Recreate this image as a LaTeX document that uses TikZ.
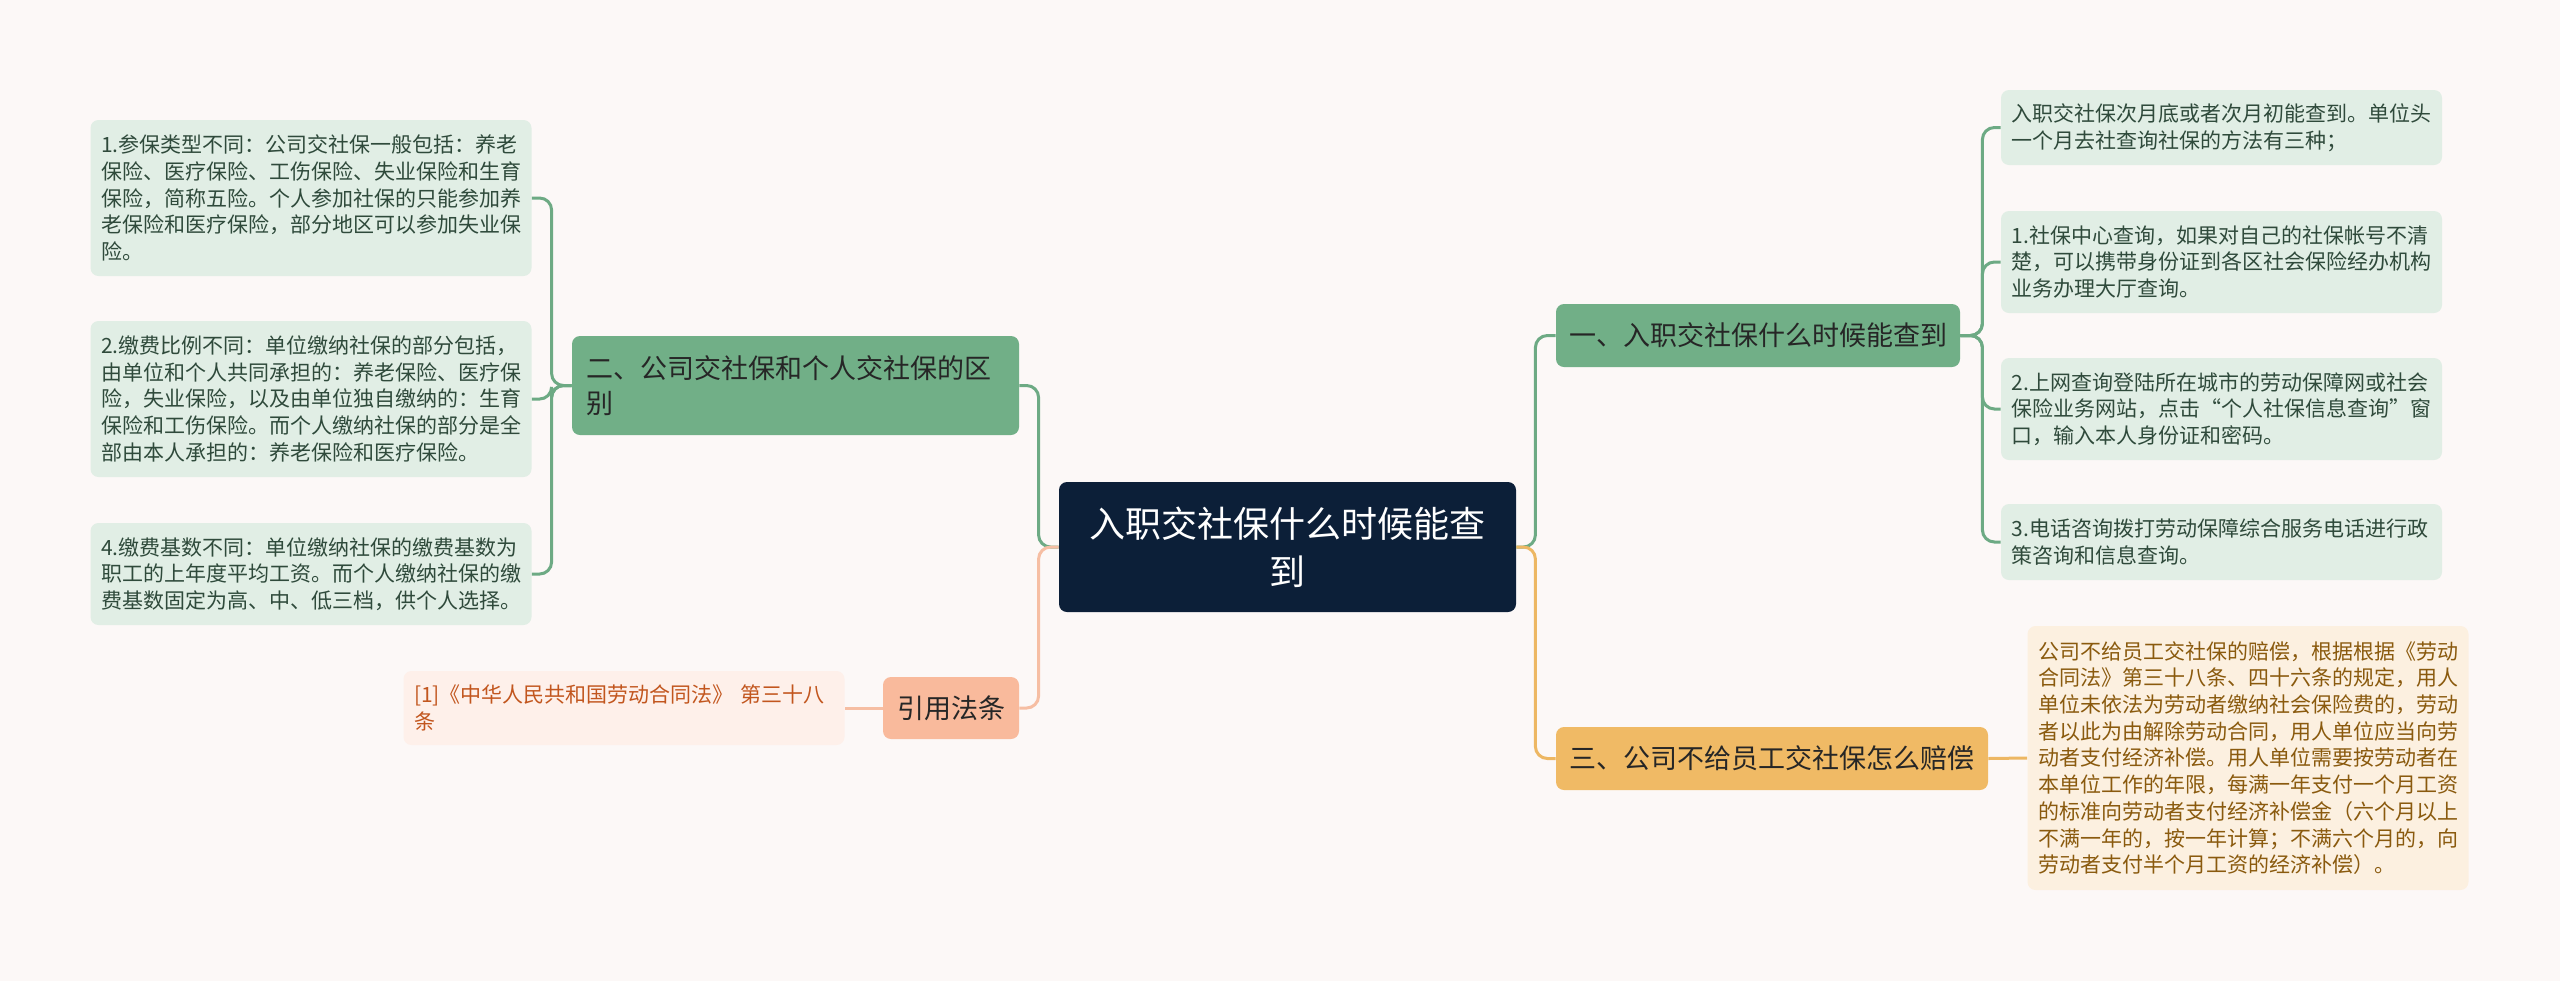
\documentclass[tikz,border=0pt]{standalone}
\usepackage{fontspec}
\setmainfont{Noto Sans CJK SC}
\usetikzlibrary{positioning}
\definecolor{paperbg}{HTML}{FCF8F7}
\definecolor{rootnavy}{HTML}{0C1F38}
\definecolor{sagegreen}{HTML}{71AF87}
\definecolor{sageline}{HTML}{6DAA84}
\definecolor{sageleaf}{HTML}{E1EEE5}
\definecolor{sagetext}{HTML}{2F4A3B}
\definecolor{amberfill}{HTML}{F0BA65}
\definecolor{amberline}{HTML}{EDB763}
\definecolor{amberleaf}{HTML}{FCF0E0}
\definecolor{ambertext}{HTML}{8A5A0E}
\definecolor{salmonfill}{HTML}{F9BA9C}
\definecolor{salmonline}{HTML}{F6BEA3}
\definecolor{salmonleaf}{HTML}{FEF0EA}
\definecolor{salmontext}{HTML}{C2561E}
\tikzset{
  rootbox/.style={fill=rootnavy, text=white, rounded corners=4pt, align=center,
    font=\fontsize{18pt}{24pt}\selectfont, minimum width=228.5pt, minimum height=65pt},
  branchbox/.style={rounded corners=4pt, text=black!85,
    font=\fontsize{13.5pt}{17.5pt}\selectfont, minimum height=31.5pt},
  leafbox/.style={rounded corners=4pt, align=left, text width=210pt, inner xsep=5.25pt,
    font=\fontsize{10.5pt}{13.35pt}\selectfont},
  greenlink/.style={draw=sageline, line width=1.5pt},
  amberlink/.style={draw=amberline, line width=1.5pt},
  salmonlink/.style={draw=salmonline, line width=1.5pt}
}
\begin{document}
\begin{tikzpicture}[x=0.5pt, y=-0.5pt]
    \useasboundingbox[fill=paperbg] (0,0) rectangle (2560,981);

    % root
    \node (main) [rootbox] at (1287.5,547) {入职交社保什么时候能查\\到};

    % branches
    \node (b1) [branchbox, fill=sagegreen, minimum width=202pt] at (1758,335.5) {一、入职交社保什么时候能查到};
    \node (b2) [branchbox, fill=sagegreen, minimum width=223.5pt, minimum height=49.5pt,
      align=left, text width=209.5pt, inner xsep=7pt] at (795.5,385.5) {二、公司交社保和个人交社保的区\\别};
    \node (b3) [branchbox, fill=amberfill, minimum width=216pt] at (1772,758.5) {三、公司不给员工交社保怎么赔偿};
    \node (bref) [branchbox, fill=salmonfill, minimum width=68pt, minimum height=31pt] at (951,708) {引用法条};

    % leaves of b1
    \node (r0) [leafbox, fill=sageleaf, text=sagetext, minimum height=37.5pt] at (2221.5,127.5)
      {入职交社保次月底或者次月初能查到。单位头\\一个月去社查询社保的方法有三种；};
    \node (r1) [leafbox, fill=sageleaf, text=sagetext, minimum height=51pt] at (2221.5,262)
      {1.社保中心查询，如果对自己的社保帐号不清\\楚，可以携带身份证到各区社会保险经办机构\\业务办理大厅查询。};
    \node (r2) [leafbox, fill=sageleaf, text=sagetext, minimum height=51pt] at (2221.5,409)
      {2.上网查询登陆所在城市的劳动保障网或社会\\保险业务网站，点击“个人社保信息查询”窗\\口，输入本人身份证和密码。};
    \node (r3) [leafbox, fill=sageleaf, text=sagetext, minimum height=38pt] at (2221.5,542)
      {3.电话咨询拨打劳动保障综合服务电话进行政\\策咨询和信息查询。};

    % leaves of b2
    \node (l1) [leafbox, fill=sageleaf, text=sagetext, minimum height=78pt] at (311,198)
      {1.参保类型不同：公司交社保一般包括：养老\\保险、医疗保险、工伤保险、失业保险和生育\\保险，简称五险。个人参加社保的只能参加养\\老保险和医疗保险，部分地区可以参加失业保\\险。};
    \node (l2) [leafbox, fill=sageleaf, text=sagetext, minimum height=78pt] at (311,399)
      {2.缴费比例不同：单位缴纳社保的部分包括，\\由单位和个人共同承担的：养老保险、医疗保\\险，失业保险，以及由单位独自缴纳的：生育\\保险和工伤保险。而个人缴纳社保的部分是全\\部由本人承担的：养老保险和医疗保险。};
    \node (l4) [leafbox, fill=sageleaf, text=sagetext, minimum height=51pt] at (311,574)
      {4.缴费基数不同：单位缴纳社保的缴费基数为\\职工的上年度平均工资。而个人缴纳社保的缴\\费基数固定为高、中、低三档，供个人选择。};

    % leaf of b3
    \node (p1) [leafbox, fill=amberleaf, text=ambertext, minimum height=132pt] at (2248,758)
      {公司不给员工交社保的赔偿，根据根据《劳动\\合同法》第三十八条、四十六条的规定，用人\\单位未依法为劳动者缴纳社会保险费的，劳动\\者以此为由解除劳动合同，用人单位应当向劳\\动者支付经济补偿。用人单位需要按劳动者在\\本单位工作的年限，每满一年支付一个月工资\\的标准向劳动者支付经济补偿金（六个月以上\\不满一年的，按一年计算；不满六个月的，向\\劳动者支付半个月工资的经济补偿）。};

    % leaf of bref
    \node (q1) [leafbox, fill=salmonleaf, text=salmontext, minimum height=37pt] at (624,708)
      {[1]《中华人民共和国劳动合同法》 第三十八\\条};

    % joints
    \path (main.west) ++(-20,0) coordinate (jl);
    \path (main.east) ++(19,0) coordinate (jr);
    \path (b2.west) ++(-20,0) coordinate (j2);
    \path (b1.east) ++(22,0) coordinate (j1);

    % root to branches
    \draw[greenlink, rounded corners=6pt] (b2.east) -| (jl) [sharp corners] -- (main.west);
    \draw[salmonlink, rounded corners=6pt] (bref.east) -| (jl) [sharp corners] -- (main.west);
    \draw[greenlink, rounded corners=6pt] (b1.west) -| (jr) [sharp corners] -- (main.east);
    \draw[amberlink, rounded corners=6pt] (b3.west) -| (jr) [sharp corners] -- (main.east);

    % branches to leaves
    \foreach \leaf in {r0, r1, r2, r3}
      \draw[greenlink, rounded corners=6pt] (\leaf.west) -| (j1) [sharp corners] -- (b1.east);
    \foreach \leaf in {l1, l2, l4}
      \draw[greenlink, rounded corners=6pt] (\leaf.east) -| (j2) [sharp corners] -- (b2.west);
    \draw[amberlink] (b3.east) -- (p1.west);
    \draw[salmonlink] (bref.west) -- (q1.east);
\end{tikzpicture}
\end{document}
